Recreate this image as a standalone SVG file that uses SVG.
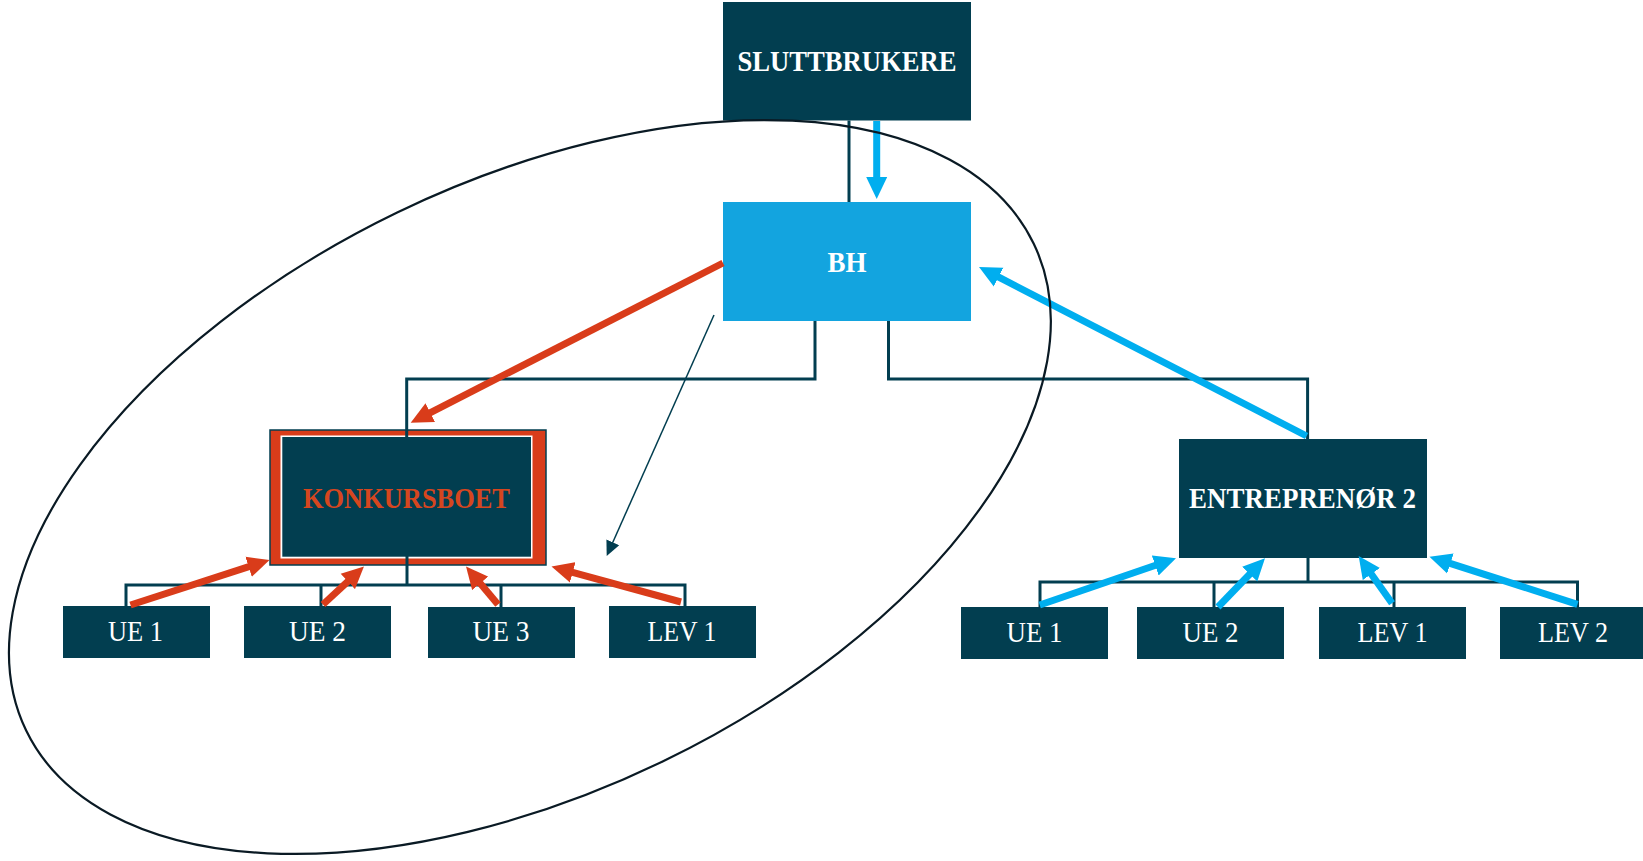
<svg xmlns="http://www.w3.org/2000/svg" width="1643" height="861" viewBox="0 0 1643 861">
<style>
.dark{fill:#023e50}
.title{font-family:"Liberation Serif","DejaVu Serif",serif;font-weight:bold;font-size:30px;text-anchor:middle;fill:#ffffff}
.small{font-family:"Liberation Serif","DejaVu Serif",serif;font-size:29px;text-anchor:middle;fill:#ffffff}
.tree{fill:none;stroke:#023e50;stroke-width:3}
.red{fill:none;stroke:#d93c1a;stroke-width:7;marker-end:url(#hr)}
.blue{fill:none;stroke:#00aeef;stroke-width:7;marker-end:url(#hb)}
</style>
<defs>
<marker id="hr" markerUnits="userSpaceOnUse" viewBox="0 -11 24 22" markerWidth="24" markerHeight="22" refX="2" refY="0" orient="auto"><path d="M0,-10.5 L22,0 L0,10.5 Z" fill="#d93c1a"/></marker>
<marker id="hb" markerUnits="userSpaceOnUse" viewBox="0 -11 24 22" markerWidth="24" markerHeight="22" refX="2" refY="0" orient="auto"><path d="M0,-10.5 L22,0 L0,10.5 Z" fill="#00aeef"/></marker>
<marker id="hd" markerUnits="userSpaceOnUse" viewBox="0 -8 16 16" markerWidth="16" markerHeight="16" refX="1" refY="0" orient="auto"><path d="M0,-7 L15,0 L0,7 Z" fill="#023e50"/></marker>
</defs>
<rect width="1643" height="861" fill="#ffffff"/>

<g id="sluttbrukere"><rect class="dark" x="723" y="2" width="248" height="118.5"/><text class="title" x="847" y="71" textLength="219" lengthAdjust="spacingAndGlyphs">SLUTTBRUKERE</text></g>
<g id="bh"><rect x="723" y="202" width="248" height="119" fill="#13a4df"/><text class="title" x="847" y="272" textLength="39" lengthAdjust="spacingAndGlyphs">BH</text></g>
<g id="konkursboet">
<rect x="270" y="430" width="276" height="135" fill="#d93c1a" stroke="#023e50" stroke-width="1.5"/>
<rect x="280.5" y="435.5" width="252" height="123" fill="#ffffff"/>
<rect class="dark" x="282.3" y="437" width="248.7" height="119.7"/>
<text class="title" x="406.5" y="508" textLength="207" lengthAdjust="spacingAndGlyphs" style="fill:#d6461f">KONKURSBOET</text>
</g>
<g id="entreprenor2"><rect class="dark" x="1179" y="439" width="248" height="119"/><text class="title" x="1302.5" y="508" textLength="227" lengthAdjust="spacingAndGlyphs">ENTREPRENØR 2</text></g>

<g id="ue1-left"><rect class="dark" x="63" y="606" width="147" height="52"/><text class="small" x="135.5" y="641" textLength="55" lengthAdjust="spacingAndGlyphs">UE 1</text></g>
<g id="ue2-left"><rect class="dark" x="244" y="606" width="147" height="52"/><text class="small" x="317.5" y="641" textLength="57" lengthAdjust="spacingAndGlyphs">UE 2</text></g>
<g id="ue3-left"><rect class="dark" x="428" y="607" width="147" height="51"/><text class="small" x="501" y="641" textLength="57" lengthAdjust="spacingAndGlyphs">UE 3</text></g>
<g id="lev1-left"><rect class="dark" x="609" y="606" width="147" height="52"/><text class="small" x="682" y="641" textLength="69" lengthAdjust="spacingAndGlyphs">LEV 1</text></g>

<g id="ue1-right"><rect class="dark" x="961" y="607" width="147" height="52"/><text class="small" x="1034.5" y="642" textLength="56" lengthAdjust="spacingAndGlyphs">UE 1</text></g>
<g id="ue2-right"><rect class="dark" x="1137" y="607" width="147" height="52"/><text class="small" x="1210.5" y="642" textLength="56" lengthAdjust="spacingAndGlyphs">UE 2</text></g>
<g id="lev1-right"><rect class="dark" x="1319" y="607" width="147" height="52"/><text class="small" x="1392.5" y="642" textLength="70" lengthAdjust="spacingAndGlyphs">LEV 1</text></g>
<g id="lev2-right"><rect class="dark" x="1500" y="607" width="147" height="52"/><text class="small" x="1573" y="642" textLength="70" lengthAdjust="spacingAndGlyphs">LEV 2</text></g>

<g id="connectors">
<path class="tree" d="M849,120.5 V202"/>
<path class="tree" d="M815,321 V379 H406.7 V437"/>
<path class="tree" d="M888.5,321 V379 H1307.6 V439"/>
<path class="tree" d="M407,556 V585"/>
<path class="tree" d="M126,606 V585 H685 V606"/>
<path class="tree" d="M321,585 V606 M501,585 V607"/>
<path class="tree" d="M1308,558 V582"/>
<path class="tree" d="M1040,607 V582 H1577.5 V607"/>
<path class="tree" d="M1214,582 V607 M1394,582 V607"/>

<path class="red" d="M723,263 L428.5,413.6"/>
<path class="red" d="M130.5,605 L250.5,566.2"/>
<path class="red" d="M323,604.5 L349.3,580.1"/>
<path class="red" d="M498,604.5 L478.9,581.8"/>
<path class="red" d="M681,602 L570.8,571.8"/>

<path class="blue" d="M876.7,121 L876.7,179"/>
<path class="blue" d="M1306.6,436 L996.8,276.2"/>
<path class="blue" d="M1039.7,605 L1157.1,564.8"/>
<path class="blue" d="M1218,607 L1251.1,572.7"/>
<path class="blue" d="M1392,603.3 L1370.2,572.4"/>
<path class="blue" d="M1577.5,604.3 L1448.5,562.8"/>

<path d="M714,315 L612.4,543.2" fill="none" stroke="#023e50" stroke-width="1.5" marker-end="url(#hd)"/>
</g>

<ellipse cx="529.9" cy="487" rx="559.5" ry="304.9" transform="rotate(-25.8 529.9 487)" fill="none" stroke="#0a1a24" stroke-width="2.2"/>
</svg>
